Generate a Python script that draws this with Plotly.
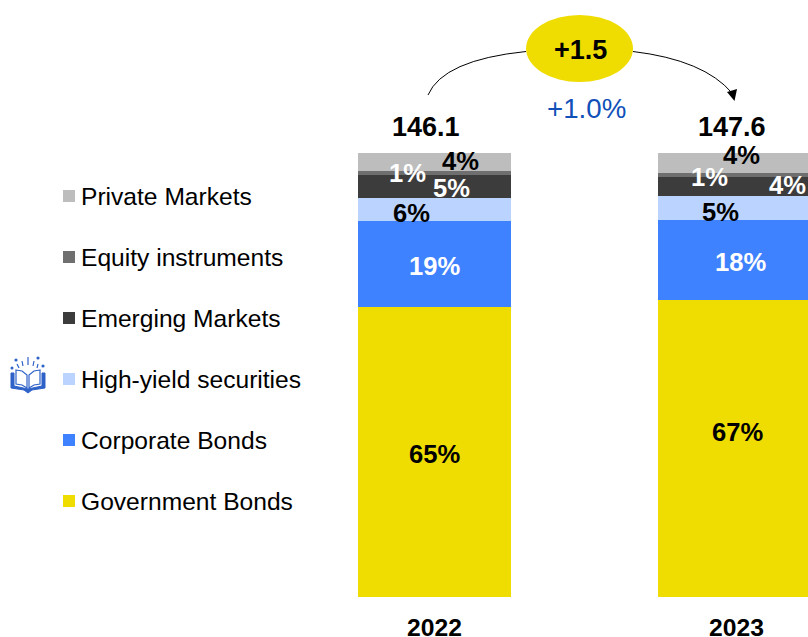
import plotly.graph_objects as go

W, H = 808, 637
BOTTOM = 40
PLOT_H = H - BOTTOM
FONT = "Liberation Sans"

years = ["2022", "2023"]
series_names = ["Government Bonds", "Corporate Bonds", "High-yield securities",
                "Emerging Markets", "Equity instruments", "Private Markets"]
government = [65.2, 66.9]
corporate = [19.3, 18.0]
high_yield = [5.3, 5.3]
emerging = [5.05, 4.4]
equity = [0.9, 0.9]
private = [4.25, 4.5]
series_values = [government, corporate, high_yield, emerging, equity, private]
series_colors = ["#EFDC00", "#3F82FF", "#BAD4FF", "#3C3C3C", "#6F6F6F", "#BDBDBD"]

labels_2022 = ["65%", "19%", "6%", "5%", "1%", "4%"]
labels_2023 = ["67%", "18%", "5%", "4%", "1%", "4%"]
bar_labels = [labels_2022, labels_2023]
label_colors = ["#000000", "#FFFFFF", "#000000", "#FFFFFF", "#FFFFFF", "#000000"]
totals = ["146.1", "147.6"]
delta = "+1.5"
delta_pct = "+1.0%"

# label nudges (px) from the centre of each stack segment
x_nudge = [[0, 0, -23.5, 16.5, -27.5, 25.5], [2.5, 5.5, -14.5, 52.5, -25.5, 6.5]]
y_nudge = [[-2, -2, -3, -1, 0, 1], [16, -2, -4, 1, -2.5, 7.5]]
year_nudge = [0, 2]
legend_row_y = [501, 440, 379, 318, 257, 196]

PX_PER_CAT = 300.0
x0 = -434.5 / PX_PER_CAT
x1 = (W - 434.5) / PX_PER_CAT
PX_PER_UNIT = (597 - 152.5) / 100.0


def px(x):
    return x / W


def py(y):
    return 1 - y / PLOT_H


def P(points):
    return " ".join(f"{c}{px(x):.5f},{py(y):.5f}" for c, x, y in points)


fig = go.Figure()
for name, vals, col in zip(series_names, series_values, series_colors):
    fig.add_bar(x=years, y=vals, name=name, marker=dict(color=col, line=dict(width=0)),
                width=0.51, hoverinfo="skip")

anns = []
for yi, yr in enumerate(years):
    base = 0.0
    for si, vals in enumerate(series_values):
        v = vals[yi]
        anns.append(dict(x=yi, y=base + v / 2, xref="x", yref="y", text=bar_labels[yi][si],
                         showarrow=False, xshift=x_nudge[yi][si], yshift=y_nudge[yi][si],
                         xanchor="center", yanchor="middle",
                         font=dict(family=FONT, size=25.6, color=label_colors[si], weight="bold")))
        base += v
    anns.append(dict(x=yi, y=base, xref="x", yref="y", text=totals[yi], showarrow=False,
                     xshift=[-9, -2.5][yi], yshift=26, xanchor="center", yanchor="middle",
                     font=dict(family=FONT, size=27, color="#000000", weight="bold")))
    anns.append(dict(x=yi, y=py(627), xref="x", yref="paper", text=yr, showarrow=False,
                     xshift=year_nudge[yi], xanchor="center", yanchor="middle",
                     font=dict(family=FONT, size=24.7, color="#000000", weight="bold")))

anns.append(dict(x=px(580), y=py(50), xref="paper", yref="paper", text=delta, showarrow=False,
                 xanchor="center", yanchor="middle",
                 font=dict(family=FONT, size=27, color="#000000", weight="bold")))
anns.append(dict(x=px(586.5), y=py(108), xref="paper", yref="paper", text=delta_pct, showarrow=False,
                 xanchor="center", yanchor="middle",
                 font=dict(family=FONT, size=27.7, color="#1050B8")))

ref = dict(xref="paper", yref="paper")
shapes = [
    dict(type="circle", x0=px(526), x1=px(633), y0=py(15), y1=py(82), fillcolor="#EFDC00",
         line=dict(width=0), **ref),
    dict(type="path", path=f"M{px(428)},{py(95)} Q{px(443)},{py(60)} {px(526)},{py(51.5)}",
         line=dict(color="#000000", width=1), **ref),
    dict(type="path", path=f"M{px(633)},{py(51.5)} Q{px(704)},{py(60)} {px(732)},{py(93)}",
         line=dict(color="#000000", width=1), **ref),
    dict(type="path", path=f"M{px(727)},{py(92)} L{px(737)},{py(89)} L{px(734.5)},{py(101)} Z",
         fillcolor="#000000", line=dict(width=0), **ref),
]

# hand-placed legend: swatch and text for every series
for name, col, ry in zip(series_names, series_colors, legend_row_y):
    shapes.append(dict(type="rect", x0=px(63), x1=px(75), y0=py(ry - 6), y1=py(ry + 6),
                       fillcolor=col, line=dict(width=0), **ref))
    anns.append(dict(x=px(78.5), y=py(ry), xref="paper", yref="paper", text=name, showarrow=False,
                     xanchor="left", yanchor="middle",
                     font=dict(family=FONT, size=24.6, color="#000000")))

# book icon
BLUE = "#2F62C8"
cover = [("M", 11, 373), ("L", 11, 388), ("L", 24, 390), ("L", 28, 393), ("L", 32, 390),
         ("L", 45, 388), ("L", 45, 373), ("L", 42, 373), ("L", 42, 386), ("L", 28, 389),
         ("L", 14, 386), ("L", 14, 373)]
left_page = [("M", 16, 370), ("L", 22, 371), ("L", 27, 375), ("L", 27, 388), ("L", 22, 385), ("L", 16, 384)]
right_page = [("M", 40, 370), ("L", 34, 371), ("L", 29, 375), ("L", 29, 388), ("L", 34, 385), ("L", 40, 384)]
shapes.append(dict(type="path", path=P(cover) + " Z", fillcolor=BLUE, line=dict(color=BLUE, width=1), **ref))
for page in (left_page, right_page):
    shapes.append(dict(type="path", path=P(page) + " Z", fillcolor="#FFFFFF",
                       line=dict(color=BLUE, width=1.2), **ref))
for cx, cy, r in [(12, 368, 1.5), (16, 360, 1.6), (38, 358, 1.6), (43, 366, 1.6)]:
    shapes.append(dict(type="circle", x0=px(cx - r), x1=px(cx + r), y0=py(cy - r), y1=py(cy + r),
                       fillcolor=BLUE, line=dict(width=0), **ref))
for a, b, c, d in [(22, 361, 23, 366), (28, 357, 28, 365), (34, 361, 33, 366), (17, 364, 19, 368), (38, 364, 37, 368)]:
    shapes.append(dict(type="line", x0=px(a), y0=py(b), x1=px(c), y1=py(d),
                       line=dict(color=BLUE, width=1.2), **ref))

fig.update_layout(
    width=W, height=H, barmode="stack",
    margin=dict(l=0, r=0, t=0, b=BOTTOM, pad=0), autosize=False,
    paper_bgcolor="#FFFFFF", plot_bgcolor="#FFFFFF",
    font=dict(family=FONT, color="#000000"),
    xaxis=dict(type="category", categoryorder="array", categoryarray=years, range=[x0, x1],
               automargin=False, showgrid=False, zeroline=False, showline=False,
               ticks="", showticklabels=False, fixedrange=True),
    yaxis=dict(range=[0, 597 / PX_PER_UNIT], visible=False, fixedrange=True, automargin=False),
    annotations=anns, shapes=shapes, showlegend=False,
)
fig.write_html("out.html", config=dict(displayModeBar=False),
               post_script="document.body.style.margin='0';")
